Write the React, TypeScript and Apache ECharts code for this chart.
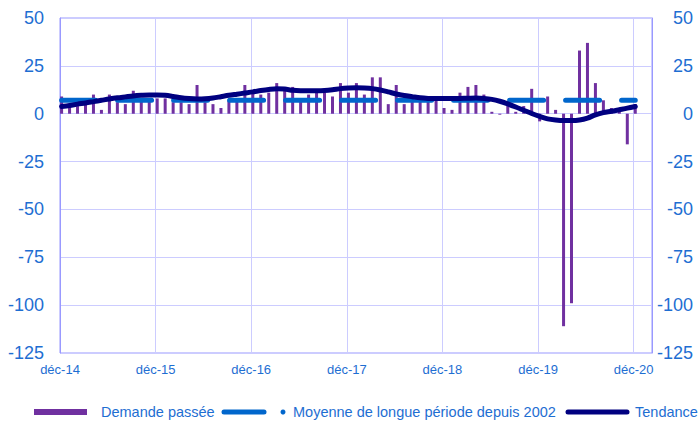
import React, { useEffect, useRef } from "react";
import * as echarts from "echarts";

// Monthly values, déc-14 (index 0) to déc-20 (index 72)
const tickLabels = ["déc-14", "déc-15", "déc-16", "déc-17", "déc-18", "déc-19", "déc-20"];

const demandePassee = [
  9, 4, 4, 6, 10, 2, 10, 6, 5, 12, 7, 7,
  8, 8, 6, 6, 5, 15, 6, 5, 3, 7, 7, 15,
  11, 10, 11, 16, 13, 14, 7, 10, 11, 11, 9, 16,
  11, 16, 10, 19, 19, 5, 15, 5, 8, 7, 7, 7,
  3, 2, 11, 14, 15, 10, 1, -0.5, 5, 1, 4, 13,
  -4, 9, 2, -111, -99, 33, 37, 16, 7, 3, 1, -16,
  5,
];

const tendance = [
  3.8, 4.3, 5.0, 5.6, 6.3, 7.0, 7.7, 8.3, 8.8, 9.3, 9.6, 9.8,
  9.8, 9.6, 9.0, 8.3, 7.9, 7.7, 7.8, 8.2, 8.9, 9.6, 10.2, 10.8,
  11.4, 12.1, 12.7, 13.1, 12.9, 12.2, 12.0, 12.0, 12.0, 12.1, 12.5, 13.1,
  13.4, 13.5, 13.4, 13.1, 12.4, 11.4, 10.3, 9.5, 8.9, 8.3, 8.0, 7.9,
  7.9, 7.9, 8.0, 8.1, 8.2, 8.0, 7.5, 6.5, 5.1, 3.5, 1.8, 0.1,
  -1.4, -2.7, -3.3, -3.6, -3.6, -3.3, -2.3, -0.6, 0.6, 1.3, 2.1, 2.9,
  3.8,
];

const moyenneLonguePeriode = 7;

const yTicks = { min: -125, max: 50, interval: 25 };
const monthOffset = 0.2; // data dated slightly after the month tick

const BLUE_TEXT = "#1E6ED2";
const PURPLE = "#7030A0";
const DASH_BLUE = "#0066CC";
const NAVY = "#000080";
const GRID = "#CCCCFF";
const BORDER = "#9999FF";
const FONT = "'Liberation Sans', Arial, sans-serif";

export default function App() {
  const ref = useRef<HTMLDivElement>(null);

  useEffect(() => {
    if (!ref.current) return;
    const chart = echarts.init(ref.current, undefined, { renderer: "svg" });

    const barData = demandePassee.map((v, i) => [i + monthOffset, v]);
    const trendData = tendance.map((v, i) => [i + monthOffset, v]);
    const lastIdx = demandePassee.length - 1;
    const meanData = [
      [monthOffset, moyenneLonguePeriode],
      [lastIdx + monthOffset, moyenneLonguePeriode],
    ];

    const legendY = 412;
    const legendText = (x: number, text: string) => ({
      type: "text",
      x,
      y: legendY,
      style: {
        text,
        fill: BLUE_TEXT,
        font: `14.5px ${FONT}`,
        verticalAlign: "middle",
        align: "left",
      },
    });

    chart.setOption({
      animation: false,
      backgroundColor: "#ffffff",
      grid: {
        left: 60,
        right: 48,
        top: 18,
        bottom: 71,
        containLabel: false,
        show: true,
        borderColor: BORDER,
        borderWidth: 1,
        backgroundColor: "transparent",
      },
      xAxis: {
        type: "value",
        min: 0,
        max: 74.3,
        interval: 12,
        axisLine: { show: false },
        axisTick: { show: false },
        splitLine: { show: true, lineStyle: { color: GRID, width: 1 } },
        axisLabel: {
          color: BLUE_TEXT,
          fontFamily: FONT,
          fontSize: 13,
          margin: 10,
          showMaxLabel: false,
          formatter: (v: number) => {
            const k = Math.round(v / 12);
            return Math.abs(v - k * 12) < 0.01 && tickLabels[k] ? tickLabels[k] : "";
          },
        },
      },
      yAxis: [
        {
          type: "value",
          position: "left",
          min: yTicks.min,
          max: yTicks.max,
          interval: yTicks.interval,
          axisLine: { show: true, lineStyle: { color: BORDER } },
          axisTick: { show: false },
          splitLine: { show: true, lineStyle: { color: GRID, width: 1 } },
          axisLabel: {
            color: BLUE_TEXT,
            fontFamily: FONT,
            fontSize: 18,
            margin: 16,
          },
        },
        {
          type: "value",
          position: "right",
          min: yTicks.min,
          max: yTicks.max,
          interval: yTicks.interval,
          axisLine: { show: true, lineStyle: { color: BORDER } },
          axisTick: { show: false },
          splitLine: { show: false },
          axisLabel: {
            color: BLUE_TEXT,
            fontFamily: FONT,
            fontSize: 18,
            margin: 41,
            align: "right",
          },
        },
      ],
      series: [
        {
          name: "Demande passée",
          type: "bar",
          data: barData,
          barWidth: 3,
          itemStyle: { color: PURPLE },
          z: 2,
        },
        {
          name: "Moyenne de longue période depuis 2002",
          type: "line",
          data: meanData,
          symbol: "none",
          lineStyle: { color: DASH_BLUE, width: 5, type: [34, 22], cap: "round" },
          z: 3,
        },
        {
          name: "Tendance",
          type: "line",
          data: trendData,
          symbol: "none",
          smooth: 0.3,
          lineStyle: { color: NAVY, width: 5, cap: "round", join: "round" },
          z: 4,
        },
      ],
      graphic: [
        {
          type: "rect",
          shape: { x: 34, y: legendY - 3, width: 53, height: 6 },
          style: { fill: PURPLE },
        },
        legendText(101, "Demande passée"),
        {
          type: "line",
          shape: { x1: 224, y1: legendY, x2: 264, y2: legendY },
          style: { stroke: DASH_BLUE, lineWidth: 5, lineCap: "round" },
        },
        {
          type: "circle",
          shape: { cx: 283, cy: legendY, r: 2.5 },
          style: { fill: DASH_BLUE },
        },
        legendText(293, "Moyenne de longue période depuis 2002"),
        {
          type: "line",
          shape: { x1: 568, y1: legendY, x2: 627, y2: legendY },
          style: { stroke: NAVY, lineWidth: 5, lineCap: "round" },
        },
        legendText(635, "Tendance"),
      ],
    });

    return () => chart.dispose();
  }, []);

  return <div ref={ref} style={{ width: 700, height: 424, position: "absolute", left: 0, top: 0 }} />;
}
